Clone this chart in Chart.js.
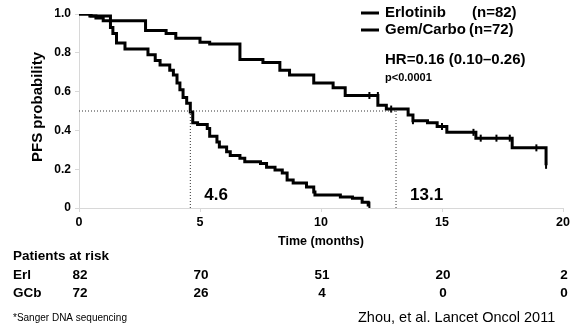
<!DOCTYPE html>
<html>
<head>
<meta charset="utf-8">
<script src="https://cdn.jsdelivr.net/npm/chart.js@4.4.0/dist/chart.umd.min.js"></script>
<style>
  html, body { margin: 0; padding: 0; background: #fff; }
  #wrap { position: relative; width: 575px; height: 328px; }
</style>
</head>
<body>
<div id="wrap"><canvas id="myChart" width="575" height="328"></canvas></div>
<script>
// Kaplan-Meier steps (time in months, PFS probability)
const erlTimes = [0, 0.5, 1.3, 2.75, 3.6, 4.0, 5.0, 5.4, 6.65, 7.6, 8.3, 8.7, 9.7, 10.5, 11.0, 12.35, 12.7, 13.6, 13.8, 14.4, 14.8, 15.2, 16.4, 17.9, 19.3, 19.3];
const erlValues = [1.0, 0.99, 0.965, 0.915, 0.9, 0.875, 0.855, 0.845, 0.765, 0.75, 0.71, 0.686, 0.644, 0.62, 0.58, 0.53, 0.51, 0.48, 0.45, 0.44, 0.42, 0.39, 0.36, 0.31, 0.22, 0.22];
const gcbTimes = [0, 0.45, 0.7, 1.0, 1.3, 1.4, 1.55, 1.9, 2.85, 3.15, 3.35, 3.75, 3.9, 4.05, 4.17, 4.3, 4.45, 4.6, 4.7, 4.9, 5.3, 5.4, 5.7, 5.8, 6.1, 6.25, 6.65, 6.85, 7.5, 7.75, 8.1, 8.4, 8.6, 8.85, 9.4, 9.7, 9.75, 10.8, 11.3, 11.7, 11.95, 12.0];
const gcbValues = [1.0, 0.99, 0.98, 0.965, 0.93, 0.9, 0.85, 0.82, 0.79, 0.76, 0.737, 0.71, 0.686, 0.644, 0.61, 0.57, 0.54, 0.495, 0.44, 0.43, 0.41, 0.37, 0.34, 0.315, 0.29, 0.27, 0.257, 0.238, 0.23, 0.21, 0.196, 0.18, 0.144, 0.129, 0.108, 0.082, 0.067, 0.057, 0.05, 0.03, 0.015, 0.015];
// censored observations (tick marks)
const erlCensorTimes = [12.0, 12.35, 12.9, 13.8, 15.0, 16.3, 16.6, 17.25, 17.8, 18.9, 19.3];
const erlCensorValues = [0.58, 0.58, 0.51, 0.45, 0.42, 0.39, 0.36, 0.36, 0.36, 0.31, 0.22];
const gcbCensorTimes = [12.0];
const gcbCensorValues = [0.015];
// medians
const medianLevel = 0.5;
const medianTimes = [4.6, 13.1];
const medianLabels = ["4.6", "13.1"];
// axis ticks
const xTicks = [0, 5, 10, 15, 20];
const yTicks = [0, 0.2, 0.4, 0.6, 0.8, 1.0];
const yTickLabels = ["0", "0.2", "0.4", "0.6", "0.8", "1.0"];
// legend + stats
const legendNames = ["Erlotinib", "Gem/Carbo"];
const legendCounts = ["(n=82)", "(n=72)"];
const hrText = "HR=0.16 (0.10\u20130.26)";
const pText = "p<0.0001";
// patients at risk
const riskGroups = ["Erl", "GCb"];
const riskErl = [82, 70, 51, 20, 2];
const riskGcb = [72, 26, 4, 0, 0];

const FONT = "'Liberation Sans', Arial, sans-serif";

function puntos(times, values) {
  return times.map((t, i) => ({ x: t, y: values[i] }));
}

const extraText = {
  id: "extraText",
  afterDraw(chart) {
    const ctx = chart.ctx;
    const xs = chart.scales.x;
    ctx.save();
    ctx.fillStyle = "#000";
    ctx.textBaseline = "middle";

    // y title
    ctx.save();
    ctx.translate(38, 107);
    ctx.rotate(-Math.PI / 2);
    ctx.textAlign = "center";
    ctx.font = "bold 15px " + FONT;
    ctx.fillText("PFS probability", 0, 0);
    ctx.restore();

    // legend
    ctx.strokeStyle = "#000";
    ctx.lineWidth = 3;
    const legY = [13, 30];
    legendNames.forEach((name, i) => {
      ctx.beginPath();
      ctx.moveTo(361, legY[i]);
      ctx.lineTo(379, legY[i]);
      ctx.stroke();
      ctx.textAlign = "left";
      ctx.font = "bold 15px " + FONT;
      ctx.fillText(name, 385, legY[i]);
      ctx.fillText(legendCounts[i], i === 0 ? 472 : 469, legY[i]);
    });
    ctx.font = "bold 15px " + FONT;
    ctx.fillText(hrText, 385, 60);
    ctx.font = "bold 11px " + FONT;
    ctx.fillText(pText, 385, 78);

    // median labels
    ctx.font = "bold 17px " + FONT;
    medianTimes.forEach((t, i) => {
      ctx.fillText(medianLabels[i], xs.getPixelForValue(t) + 14, 195);
    });

    // x title
    ctx.textAlign = "center";
    ctx.font = "bold 12.5px " + FONT;
    ctx.fillText("Time (months)", xs.getPixelForValue(10), 242);

    // patients at risk
    ctx.font = "bold 13.5px " + FONT;
    ctx.textAlign = "left";
    ctx.fillText("Patients at risk", 13, 256);
    const rows = [riskErl, riskGcb];
    rows.forEach((row, r) => {
      const y = 275 + r * 18;
      ctx.textAlign = "left";
      ctx.fillText(riskGroups[r], 13, y);
      ctx.textAlign = "center";
      row.forEach((n, i) => {
        ctx.fillText(String(n), xs.getPixelForValue(xTicks[i]) + 1, y);
      });
    });

    // footnotes
    ctx.textAlign = "left";
    ctx.font = "10px " + FONT;
    ctx.fillText("*Sanger DNA sequencing", 13, 318);
    ctx.font = "14.5px " + FONT;
    ctx.fillText("Zhou, et al. Lancet Oncol 2011", 358, 318);
    ctx.restore();
  },
};

function dibujarGrafica() {
  const ctx = document.getElementById("myChart").getContext("2d");
  const medianSets = [
    [{ x: 0, y: medianLevel }, { x: medianTimes[1], y: medianLevel }],
  ];
  medianTimes.forEach((t) => {
    medianSets.push([{ x: t, y: medianLevel }, { x: t, y: 0 }]);
  });
  const dotted = medianSets.map((d) => ({
    data: d,
    borderColor: "#333",
    borderWidth: 1,
    borderDash: [1, 2],
    pointRadius: 0,
    fill: false,
  }));

  new Chart(ctx, {
    type: "line",
    data: {
      datasets: [
        ...dotted,
        {
          label: legendNames[0],
          data: puntos(erlTimes, erlValues),
          stepped: "before",
          borderColor: "#000",
          borderWidth: 3,
          pointRadius: 0,
          fill: false,
        },
        {
          label: legendNames[1],
          data: puntos(gcbTimes, gcbValues),
          stepped: "before",
          borderColor: "#000",
          borderWidth: 3,
          pointRadius: 0,
          fill: false,
        },
        {
          data: puntos(erlCensorTimes, erlCensorValues),
          showLine: false,
          pointStyle: "line",
          rotation: 90,
          pointRadius: 3.5,
          borderColor: "#000",
          borderWidth: 2,
        },
        {
          data: puntos(gcbCensorTimes, gcbCensorValues),
          showLine: false,
          pointStyle: "line",
          rotation: 90,
          pointRadius: 3.5,
          borderColor: "#000",
          borderWidth: 2,
        },
      ],
    },
    options: {
      responsive: false,
      animation: false,
      layout: { padding: { top: 14, right: 12, left: 0, bottom: 0 } },
      plugins: { legend: { display: false }, tooltip: { enabled: false } },
      scales: {
        x: {
          type: "linear",
          min: 0,
          max: 20,
          afterBuildTicks: (s) => { s.ticks = xTicks.map((v) => ({ value: v })); },
          afterFit: (s) => { s.height = 120; },
          grid: { drawOnChartArea: false, color: "#d8d8d8", tickLength: 4 },
          border: { color: "#d8d8d8", width: 1 },
          ticks: {
            color: "#000",
            padding: 3,
            font: { family: FONT, size: 12.5, weight: "bold" },
          },
        },
        y: {
          min: 0,
          max: 1,
          afterBuildTicks: (s) => { s.ticks = yTicks.map((v) => ({ value: v })); },
          afterFit: (s) => { s.width = 79; },
          grid: { drawOnChartArea: false, color: "#d8d8d8", tickLength: 4 },
          border: { color: "#d8d8d8", width: 1 },
          ticks: {
            color: "#000",
            padding: 4,
            font: { family: FONT, size: 12, weight: "bold" },
            callback: (v) => yTickLabels[yTicks.indexOf(v)],
          },
        },
      },
    },
    plugins: [extraText],
  });
}

dibujarGrafica();
</script>
</body>
</html>
